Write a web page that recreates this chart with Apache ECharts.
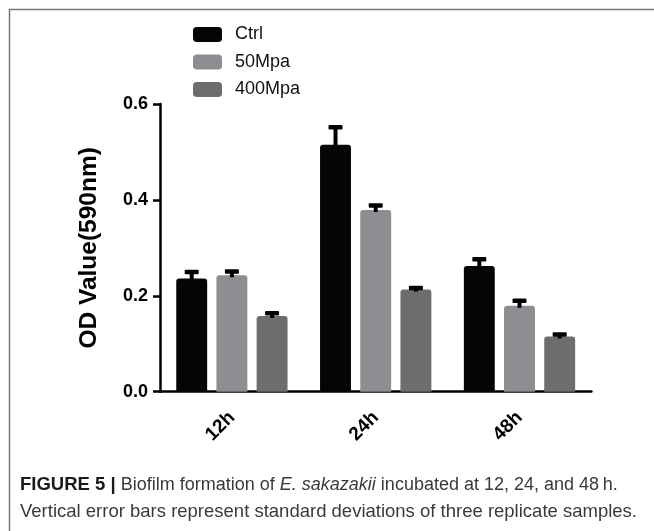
<!DOCTYPE html>
<html>
<head>
<meta charset="utf-8">
<script src="https://cdn.jsdelivr.net/npm/echarts@6/dist/echarts.min.js"></script>
<style>
html,body{margin:0;padding:0;background:#fff;}
#chart{width:654px;height:531px;}
</style>
</head>
<body>
<div id="chart"></div>
<script>
var categories = ['12h', '24h', '48h'];
var seriesNames = ['Ctrl', '50Mpa', '400Mpa'];
var ctrlValues = [0.236, 0.515, 0.262];
var mpa50Values = [0.243, 0.379, 0.179];
var mpa400Values = [0.158, 0.213, 0.115];
var ctrlErr = [0.014, 0.037, 0.015];
var mpa50Err = [0.008, 0.010, 0.011];
var mpa400Err = [0.006, 0.004, 0.005];
var yTicks = [0.0, 0.2, 0.4, 0.6];

var values = [ctrlValues, mpa50Values, mpa400Values];
var errors = [ctrlErr, mpa50Err, mpa400Err];
var colors = ['#050505', '#8e8e92', '#6d6d6d'];
var BAR_W = 0.215, BAR_GAP = 0.30;
var FONT = 'Liberation Sans, Arial, Helvetica, sans-serif';

var chart = echarts.init(document.getElementById('chart'));

var series = [];
seriesNames.forEach(function (name, i) {
  series.push({
    name: name,
    type: 'bar',
    data: values[i],
    barWidth: (BAR_W * 100) + '%',
    barGap: (BAR_GAP * 100) + '%',
    itemStyle: { color: colors[i], borderRadius: [3, 3, 0, 0] },
    z: 2
  });
});
seriesNames.forEach(function (name, i) {
  series.push({
    type: 'custom',
    data: values[i].map(function (v, j) { return [j, v, v + errors[i][j]]; }),
    z: 3,
    silent: true,
    renderItem: function (params, api) {
      var band = api.size([1, 0])[0];
      var bw = band * BAR_W;
      var off = (i - 1) * bw * (1 + BAR_GAP);
      var base = api.coord([api.value(0), api.value(1)]);
      var top = api.coord([api.value(0), api.value(2)]);
      var x = base[0] + off;
      var capW = 14;
      return {
        type: 'group',
        children: [
          { type: 'rect', shape: { x: x - 2, y: top[1], width: 4, height: base[1] - top[1] + 2 },
            style: { fill: '#000' } },
          { type: 'rect', shape: { x: x - capW / 2, y: top[1] - 2, width: capW, height: 4.5, r: 1 },
            style: { fill: '#000' } }
        ]
      };
    }
  });
});

chart.setOption({
  animation: false,
  backgroundColor: '#fff',
  textStyle: { fontFamily: FONT },
  legend: {
    data: seriesNames,
    orient: 'vertical',
    left: 188,
    top: 20.5,
    itemWidth: 29,
    itemHeight: 15,
    itemGap: 9.5,
    itemStyle: { borderWidth: 0 },
    textStyle: { fontSize: 18, lineHeight: 18, color: '#111', fontFamily: FONT, padding: [0, 0, 0, 8] },
    icon: 'roundRect'
  },
  grid: { left: 160, right: 62.6, top: 104, bottom: 139.3, containLabel: false },
  xAxis: {
    type: 'category',
    data: categories,
    axisLine: { lineStyle: { color: '#000', width: 2.5 } },
    axisTick: { alignWithLabel: true, length: 8, lineStyle: { color: '#000', width: 2.5 } },
    axisLabel: { rotate: 45, fontSize: 19, fontWeight: 'bold', color: '#000', margin: 23, fontFamily: FONT }
  },
  yAxis: {
    type: 'value',
    min: 0,
    max: 0.6,
    interval: 0.2,
    name: 'OD Value(590nm)',
    nameLocation: 'middle',
    nameGap: 58,
    nameTextStyle: { fontSize: 24.5, fontWeight: 'bold', color: '#000', fontFamily: FONT },
    axisLine: { show: true, lineStyle: { color: '#000', width: 2.5 } },
    axisTick: { show: true, length: 7, lineStyle: { color: '#000', width: 2.5 } },
    splitLine: { show: false },
    axisLabel: {
      fontSize: 18, fontWeight: 'bold', color: '#000', margin: 12, fontFamily: FONT,
      formatter: function (v) { return v.toFixed(1); }
    }
  },
  graphic: [
    { type: 'rect', left: 7, top: 7, silent: true, z: -1,
      shape: { width: 660, height: 540 },
      style: { fill: 'none', stroke: '#777', lineWidth: 1.5 } },
    { type: 'text', left: 20, top: 472, silent: true,
      style: {
        text: '{b|FIGURE 5 |} {n|Biofilm formation of }{i|E. sakazakii}{n| incubated at 12, 24, and 48\u2009h.}\nVertical error bars represent standard deviations of three replicate samples.',
        fill: '#3a3a3a', fontSize: 18.5, lineHeight: 26.5, fontFamily: FONT,
        rich: {
          b: { fontWeight: 'bold', fill: '#1a1a1a', fontSize: 18.5, lineHeight: 26.5, fontFamily: FONT },
          n: { fill: '#3a3a3a', fontSize: 18, lineHeight: 26.5, fontFamily: FONT },
          i: { fontStyle: 'italic', fill: '#3a3a3a', fontSize: 18, lineHeight: 26.5, fontFamily: FONT }
        }
      } }
  ],
  series: series
});
</script>
</body>
</html>
